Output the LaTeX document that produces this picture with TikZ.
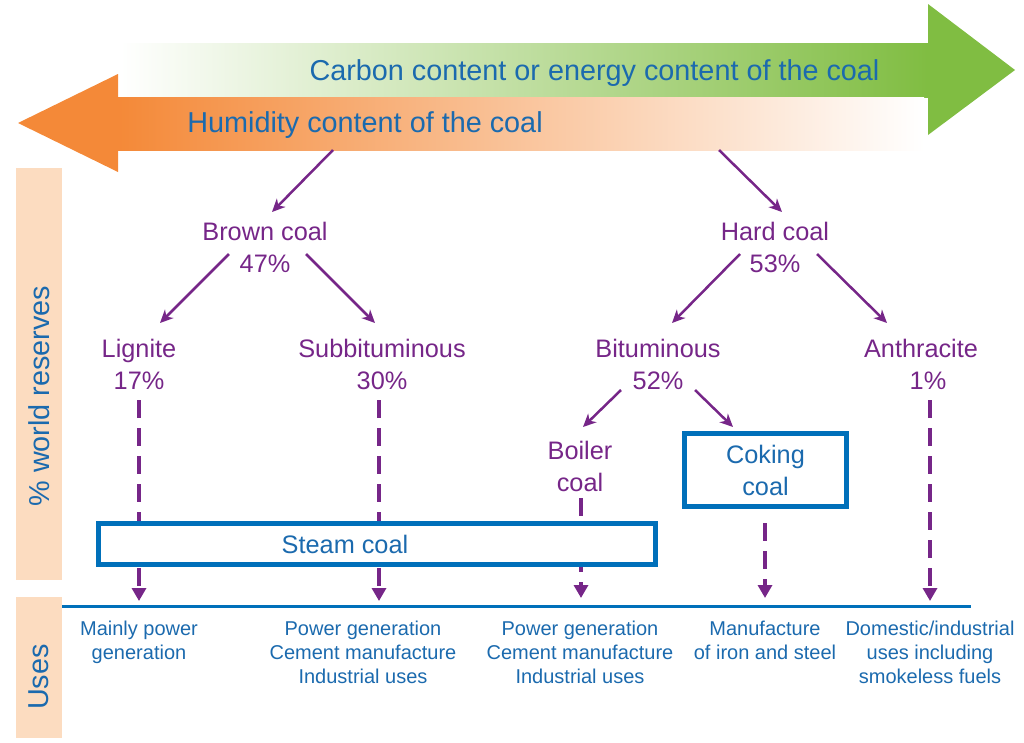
\documentclass[tikz,border=0pt]{standalone}
\usepackage{fontspec}
\setmainfont{Liberation Sans}
\usetikzlibrary{arrows.meta}
\definecolor{grn}{RGB}{128,189,66}
\definecolor{org}{RGB}{244,137,56}
\definecolor{peach}{RGB}{252,220,192}
\definecolor{pur}{RGB}{118,38,136}
\definecolor{txtblue}{RGB}{27,106,174}
\definecolor{boxblue}{RGB}{0,112,186}
\begin{document}
\begin{tikzpicture}[x=1pt,y=-1pt,
  lbl/.style={text=pur, font=\fontsize{25.3}{32}\selectfont, align=center, inner sep=0pt},
  usetxt/.style={text=txtblue, font=\fontsize{20}{24}\selectfont, align=center, inner sep=0pt, anchor=north},
  bigtxt/.style={text=txtblue, font=\fontsize{28.8}{34}\selectfont, inner sep=0pt},
  arr/.style={draw=pur, line width=2.5pt, -{Stealth[length=13pt,width=12pt,inset=4pt,fill=pur]}},
  darr/.style={draw=pur, line width=4.8pt, dash pattern=on 18pt off 10pt, -{Triangle[length=13pt,width=14pt,fill=pur]}},
  bluebox/.style={draw=boxblue, line width=5pt, fill=white, inner sep=0pt}]
\useasboundingbox (0,0) rectangle (1024,742);

% big direction arrows
\shade[left color=white, middle color=grn!50!white, right color=grn] (120,43) rectangle (928,97);
\fill[grn] (928,4) -- (1015,70) -- (928,135) -- cycle;
\fill[org] (118,74) -- (18,123) -- (118,172) -- cycle;
\shade[left color=org, right color=white] (118,97) rectangle (924,150);
\node[bigtxt, anchor=base] (carbon) at (594.5,80) {Carbon content or energy content of the coal};
\node[bigtxt, anchor=base] (humid) at (365,132) {Humidity content of the coal};

% side bars
\fill[peach] (16,168) rectangle (62,580);
\fill[peach] (16,597) rectangle (62,738);
\node[bigtxt, rotate=90] (resv) at (39,396) {\% world reserves};
\node[bigtxt, rotate=90] (uses) at (39,677) {Uses};

% classification nodes
\node[lbl] (brown) at (265,247) {Brown coal\\47\%};
\node[lbl] (hard) at (775,247) {Hard coal\\53\%};
\node[lbl] (lig) at (139,364) {Lignite\\17\%};
\node[lbl] (sub) at (382,364) {Subbituminous\\30\%};
\node[lbl] (bit) at (658,364) {Bituminous\\52\%};
\node[lbl] (anth) at (921,364) {Anthracite\\\hspace*{14pt}1\%};
\node[lbl] (boiler) at (580,466) {Boiler\\coal};

% arrow end points
\coordinate (tl0) at (333,150); \coordinate (tl1) at (272,212);
\coordinate (tr0) at (719,150); \coordinate (tr1) at (782,212);
\coordinate (bl0) at (229,254); \coordinate (bl1) at (160,323);
\coordinate (br0) at (306,254); \coordinate (br1) at (375,323);
\coordinate (hl0) at (740,254); \coordinate (hl1) at (672,323);
\coordinate (hr0) at (817,254); \coordinate (hr1) at (887,323);
\coordinate (ul0) at (621,390); \coordinate (ul1) at (583,427);
\coordinate (ur0) at (695,390); \coordinate (ur1) at (733,427);

\draw[arr] (tl0) -- (tl1);
\draw[arr] (tr0) -- (tr1);
\draw[arr] (bl0) -- (bl1);
\draw[arr] (br0) -- (br1);
\draw[arr] (hl0) -- (hl1);
\draw[arr] (hr0) -- (hr1);
\draw[arr] (ul0) -- (ul1);
\draw[arr] (ur0) -- (ur1);

% dashed arrows
\coordinate (d1a) at (139,400); \coordinate (d1b) at (139,601);
\coordinate (d2a) at (379,400); \coordinate (d2b) at (379,601);
\coordinate (d3a) at (581,498); \coordinate (d3b) at (581,598);
\coordinate (d4a) at (765,523); \coordinate (d4b) at (765,598);
\coordinate (d5a) at (930,400); \coordinate (d5b) at (930,601);
\draw[darr] (d1a) -- (d1b);
\draw[darr] (d2a) -- (d2b);
\draw[darr] (d3a) -- (d3b);
\draw[darr] (d4a) -- (d4b);
\draw[darr] (d5a) -- (d5b);

% boxes
\node[bluebox, minimum width=557pt, minimum height=41pt] (steam) at (377,544) {};
\node[text=txtblue, font=\fontsize{25.3}{32}\selectfont, inner sep=0pt] (steamtxt) at (345,544) {Steam coal};
\node[bluebox, minimum width=162pt, minimum height=73pt, text=txtblue, font=\fontsize{25.3}{32}\selectfont, align=center] (coking) at (765.5,470) {Coking\\coal};

% uses line
\coordinate (ul) at (62,606); \coordinate (ur) at (971,606);
\draw[boxblue, line width=3pt] (ul) -- (ur);

% uses texts
\node[usetxt] (u1) at (139,621) {Mainly power\\generation};
\node[usetxt] (u2) at (363,621) {Power generation\\Cement manufacture\\Industrial uses};
\node[usetxt] (u3) at (580,621) {Power generation\\Cement manufacture\\Industrial uses};
\node[usetxt] (u4) at (765,621) {Manufacture\\of iron and steel};
\node[usetxt] (u5) at (930,621) {Domestic/industrial\\uses including\\smokeless fuels};
\end{tikzpicture}
\end{document}
